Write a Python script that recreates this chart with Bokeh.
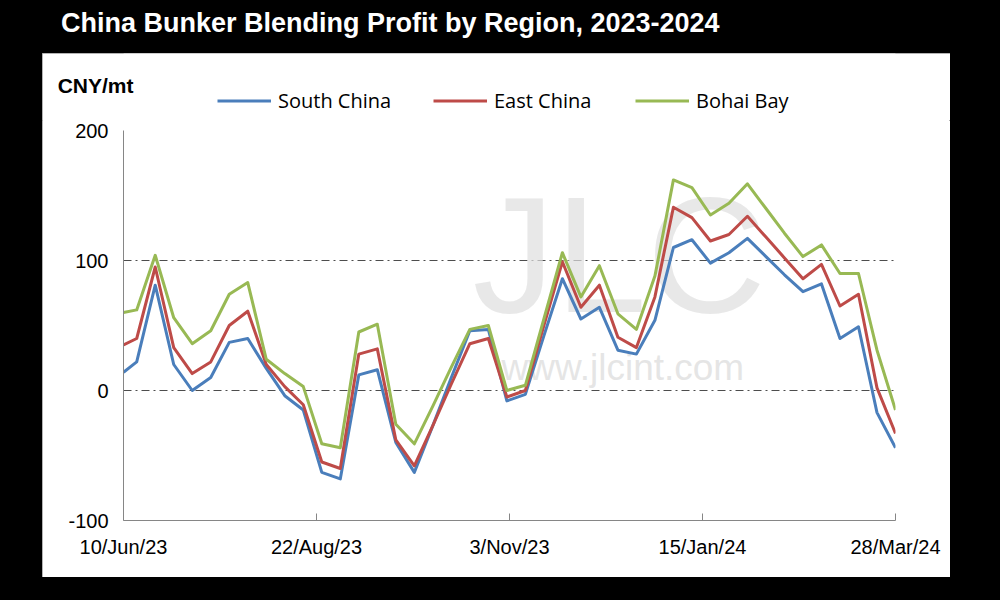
import pandas as pd
from bokeh.plotting import figure
from bokeh.models import Range1d, FixedTicker, Legend, LegendItem, Div, Spacer
from bokeh.layouts import column, row
from bokeh.core.properties import value
from bokeh.embed import file_html
from bokeh.resources import INLINE

# ---------------- data ----------------
title = "China Bunker Blending Profit by Region, 2023-2024"
unit_label = "CNY/mt"
start_date = "2023-06-10"

dates = [
    "2023-06-10", "2023-06-15", "2023-06-22", "2023-06-29", "2023-07-06", "2023-07-13",
    "2023-07-20", "2023-07-27", "2023-08-03", "2023-08-10", "2023-08-17", "2023-08-24",
    "2023-08-31", "2023-09-07", "2023-09-14", "2023-09-21", "2023-09-28", "2023-10-05",
    "2023-10-12", "2023-10-19", "2023-10-26", "2023-11-02", "2023-11-09", "2023-11-16",
    "2023-11-23", "2023-11-30", "2023-12-07", "2023-12-14", "2023-12-21", "2023-12-28",
    "2024-01-04", "2024-01-11", "2024-01-18", "2024-01-25", "2024-02-01", "2024-02-08",
    "2024-02-15", "2024-02-22", "2024-02-29", "2024-03-07", "2024-03-14", "2024-03-21",
    "2024-03-28",
]

south_china = [14, 22, 81, 20, 0, 10, 37, 40, 17, -4, -15, -63, -68, 12, 16, -40, -63, -27,
               10, 46, 47, -8, -3, 42, 86, 55, 64, 31, 28, 54, 110, 116, 98, 106, 117, 103,
               89, 76, 82, 40, 49, -17, -44]
east_china = [35, 40, 95, 33, 13, 22, 50, 61, 20, 3, -11, -55, -60, 28, 32, -38, -58, -27,
              5, 36, 40, -5, 0, 50, 99, 64, 81, 41, 33, 72, 141, 133, 115, 120, 134, 118,
              102, 86, 97, 65, 74, 2, -33]
bohai_bay = [60, 62, 104, 56, 36, 46, 74, 83, 24, 13, 3, -41, -44, 45, 51, -26, -41, -12,
             18, 47, 50, 0, 4, 55, 106, 72, 96, 59, 47, 88, 162, 156, 135, 144, 159, 140,
             121, 103, 112, 90, 90, 31, -15]

series_names = ["South China", "East China", "Bohai Bay"]
series_colors = ["#4A7EBB", "#BE4B48", "#98B954"]

tick_dates = ["2023-06-10", "2023-08-22", "2023-11-03", "2024-01-15", "2024-03-28"]
tick_labels = ["10/Jun/23", "22/Aug/23", "3/Nov/23", "15/Jan/24", "28/Mar/24"]
y_ticks = [-100, 0, 100, 200]
y_tick_labels = ["-100", "0", "100", "200"]

# ---------------- derived ----------------
t0 = pd.Timestamp(start_date)
x_days = [(pd.Timestamp(d) - t0).days for d in dates]
x_ticks = [(pd.Timestamp(d) - t0).days for d in tick_dates]
all_series = [south_china, east_china, bohai_bay]

# ---------------- header strip (unit label + legend) ----------------
# its frame is aligned with the main plot's frame; y range is placed above the data
hdr = figure(width=908, height=67, output_backend="svg", toolbar_location=None,
             x_range=Range1d(x_ticks[0], x_ticks[-1]), y_range=Range1d(300, 367),
             x_axis_type=None, y_axis_location="left",
             min_border_left=81, min_border_right=55, min_border_top=0, min_border_bottom=0,
             background_fill_color="white", border_fill_color="white", outline_line_color=None)
hdr.ygrid.visible = False
hy = hdr.yaxis[0]
hy.ticker = FixedTicker(ticks=[335])
hy.major_label_overrides = {335: unit_label}
hy.axis_line_color = None
hy.major_tick_line_color = None
hy.minor_tick_line_color = None
hy.major_tick_in = 0
hy.major_tick_out = 0
hy.major_label_standoff = -10
hy.major_label_text_font = "Liberation Sans"
hy.major_label_text_font_style = "bold"
hy.major_label_text_font_size = "21px"
hy.major_label_text_color = "black"

legend_x = [94, 310, 512]
for name, vals, col, lx in zip(series_names, all_series, series_colors, legend_x):
    key = hdr.line(x_days, vals, line_color=col, line_width=3)  # out of view: legend key only
    lg = Legend(items=[LegendItem(label=name, renderers=[key])], location=(lx, 6),
                orientation="horizontal", padding=0, margin=0, spacing=0,
                border_line_color=None, background_fill_alpha=0,
                glyph_width=54, glyph_height=27, label_height=27, label_standoff=7,
                label_text_font="Open Sans", label_text_font_size="20px",
                label_text_color="black")
    hdr.add_layout(lg)

# ---------------- main plot ----------------
p = figure(width=908, height=457, output_backend="svg", toolbar_location=None,
           x_range=Range1d(x_ticks[0], x_ticks[-1]), y_range=Range1d(y_ticks[0], y_ticks[-1]),
           min_border_left=81, min_border_right=55, min_border_top=10, min_border_bottom=57,
           background_fill_color="white", border_fill_color="white", outline_line_color=None)

# faint watermark
p.text(x=[132], y=[104], text=["JLC"], text_font=value("Liberation Sans"),
       text_font_size="165px", text_color="#DEDEDE", text_alpha=0.7,
       text_baseline="middle", text_align="left")
p.text(x=[143], y=[18], text=["www.jlcint.com"], text_font=value("Liberation Sans"),
       text_font_size="37px", text_color="#DEDEDE", text_alpha=0.8,
       text_baseline="middle", text_align="left")

for vals, col in zip(all_series, series_colors):
    p.line(x_days, vals, line_color=col, line_width=3, line_join="round")

for ax in (p.xaxis[0], p.yaxis[0]):
    ax.axis_line_color = "#868686"
    ax.axis_line_width = 1
    ax.major_label_text_font = "Liberation Sans"
    ax.major_label_text_font_size = "20px"
    ax.major_label_text_color = "black"
    ax.minor_tick_line_color = None

p.xaxis.ticker = FixedTicker(ticks=x_ticks)
p.xaxis.major_label_overrides = {t: l for t, l in zip(x_ticks, tick_labels)}
p.xaxis.major_tick_in = 7
p.xaxis.major_tick_out = 0
p.xaxis.major_tick_line_color = "#868686"
p.xaxis.major_label_standoff = 15

p.yaxis.ticker = FixedTicker(ticks=y_ticks)
p.yaxis.major_label_overrides = {t: l for t, l in zip(y_ticks, y_tick_labels)}
p.yaxis.major_tick_in = 0
p.yaxis.major_tick_out = 0
p.yaxis.major_tick_line_color = None
p.yaxis.major_label_standoff = 15

p.xgrid.visible = False
p.ygrid.ticker = FixedTicker(ticks=y_ticks)
p.ygrid.grid_line_color = "#4D4D4D"
p.ygrid.grid_line_dash = "8 4 2 4"
p.ygrid.grid_line_width = 1

# ---------------- page layout ----------------
title_div = Div(
    text=('<div style="margin-left:61px; padding-top:10px; '
          'font-family:\'Liberation Sans\',Arial,sans-serif; '
          'font-weight:bold; font-size:27px; line-height:27px; color:white; '
          'white-space:nowrap;">' + title + '</div>'),
    width=1000, height=53, margin=(0, 0, 0, 0), styles={"background-color": "black"})

left_pad = Spacer(width=42, height=524, styles={"background-color": "black"})
right_pad = Spacer(width=50, height=524, styles={"background-color": "black"})
bottom_pad = Spacer(width=1000, height=23, styles={"background-color": "black"})

panel = column(hdr, p, styles={"outline": "1px solid #9A9A9A", "outline-offset": "-1px"})
layout = column(title_div, row(left_pad, panel, right_pad), bottom_pad)

open("out.html", "w").write(file_html(layout, INLINE))
